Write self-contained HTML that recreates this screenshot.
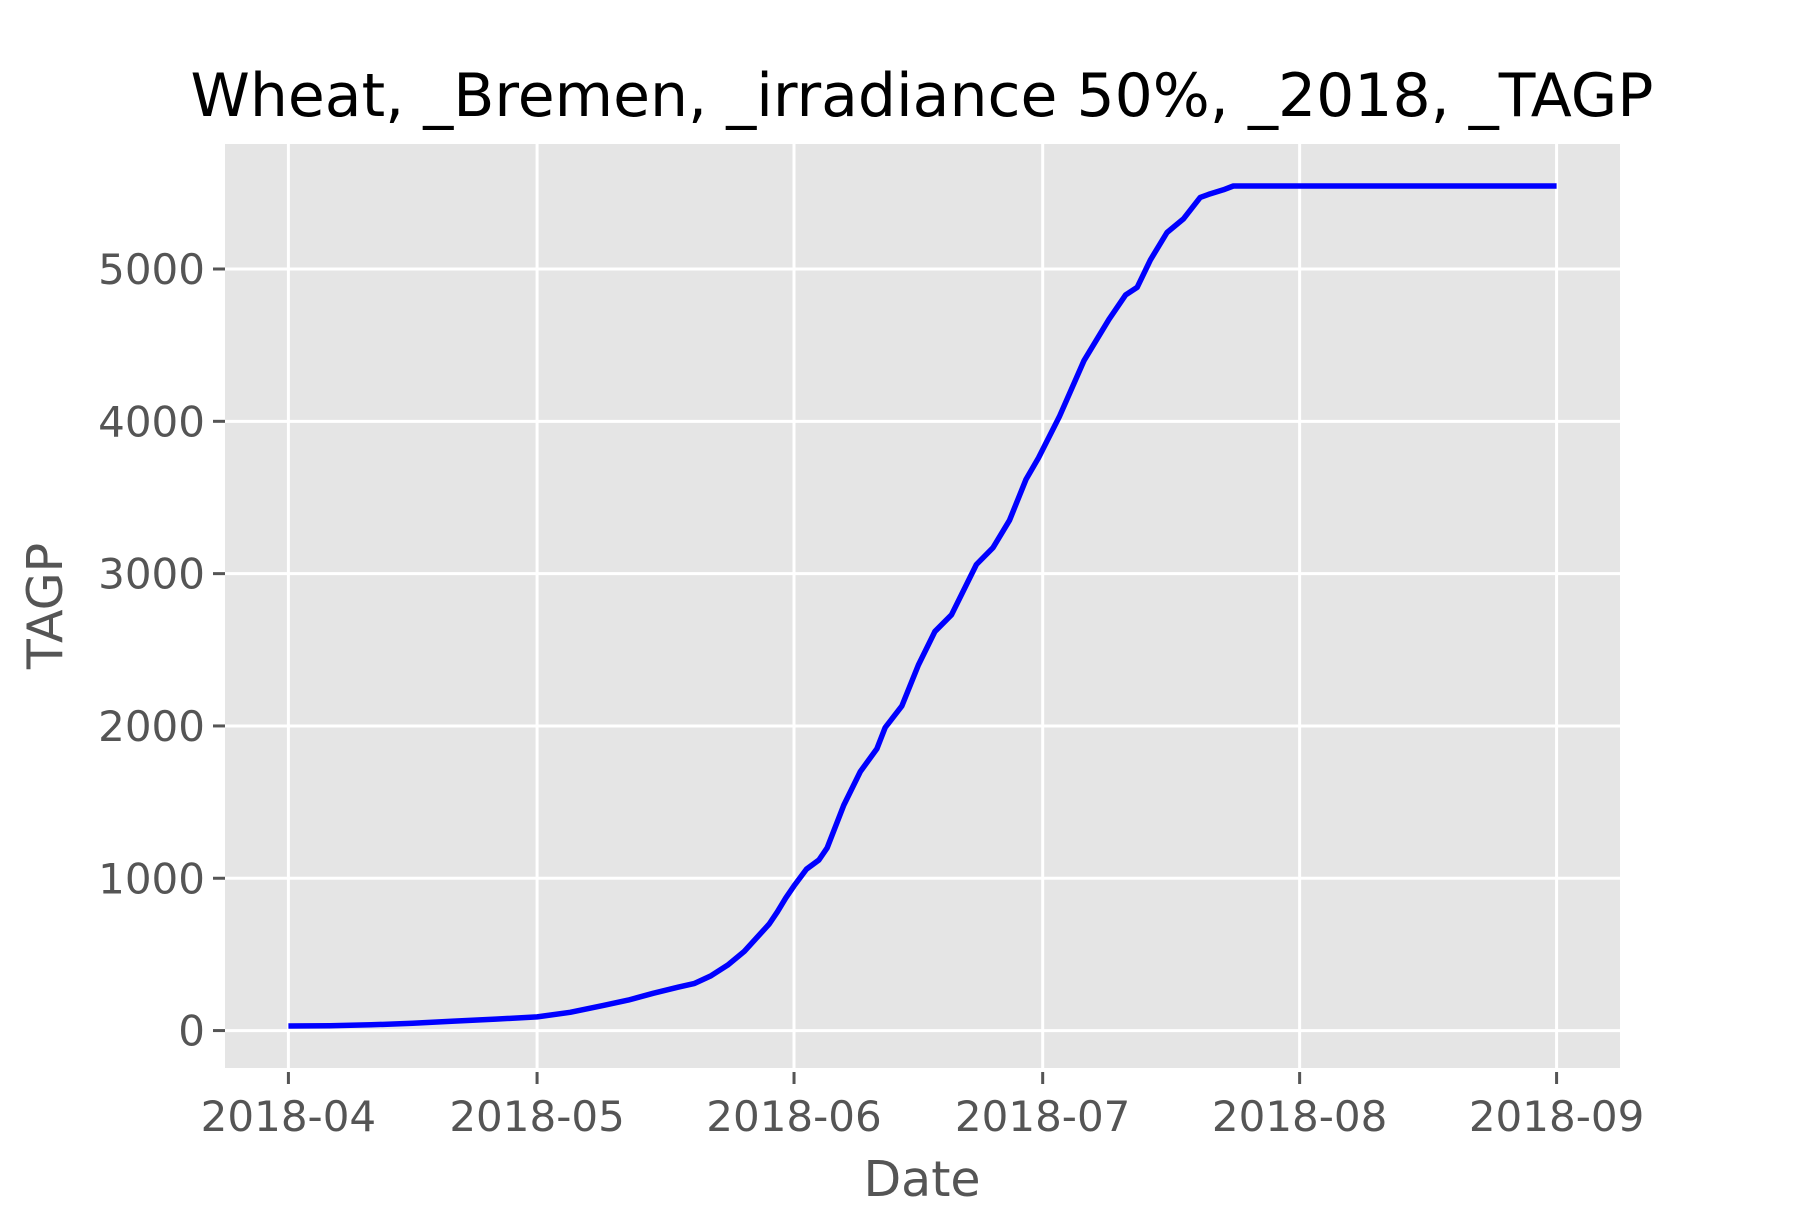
<!DOCTYPE html>
<html><head><meta charset="utf-8"><style>
html,body{margin:0;padding:0;background:#fff;}
svg text{font-family:"DejaVu Sans","Liberation Sans",sans-serif;}
</style></head><body>
<svg id="chart" width="1800" height="1200" viewBox="0 0 1800 1200" xmlns="http://www.w3.org/2000/svg">
<rect x="225" y="144" width="1395" height="924" fill="#E5E5E5"/>
<g id="grid"></g>
<g id="series"></g>
<g id="axes"></g>
<text x="922" y="116" font-size="60" text-anchor="middle" fill="#000">Wheat, _Bremen, _irradiance 50%, _2018, _TAGP</text>
<text x="922" y="1196" font-size="49" text-anchor="middle" fill="#555">Date</text>
<text transform="translate(62,606) rotate(-90)" font-size="49" text-anchor="middle" fill="#555">TAGP</text>
</svg>
<script>
const days = [0,5,10,15,20,25,30,34,38,41,44,47,49,51,53,55,57,58,59,60,61,62.5,64,65,67,69,71,72,74,76,78,80,83,85,87,89,90.5,93,96,99,101,102.4,104,106,108,110,111,112.8,114,153];
const tagp = [30,32,38,48,62,75,90,120,165,200,245,285,310,360,430,520,640,700,780,870,950,1060,1120,1200,1480,1700,1850,1990,2130,2400,2620,2730,3060,3170,3350,3620,3760,4030,4400,4670,4830,4880,5060,5240,5330,5470,5490,5520,5545,5545];
const yTicks = [0,1000,2000,3000,4000,5000];
const xTickDays = [0,30,61,91,122,153];
const xTickLabels = ["2018-04","2018-05","2018-06","2018-07","2018-08","2018-09"];

const L=225,R=1620,T=144,B=1068;
const dMin=0,dMax=153,dPad=(dMax-dMin)*0.05;
const vMin=Math.min(...tagp),vMax=Math.max(...tagp),vPad=(vMax-vMin)*0.05;
const xs=d=>L+(d-(dMin-dPad))/((dMax+dPad)-(dMin-dPad))*(R-L);
const ys=v=>B-(v-(vMin-vPad))/((vMax+vPad)-(vMin-vPad))*(B-T);
const NS="http://www.w3.org/2000/svg";
function mk(tag,attrs,parent){const e=document.createElementNS(NS,tag);for(const k in attrs)e.setAttribute(k,attrs[k]);parent.appendChild(e);return e;}
const grid=document.getElementById('grid'),axes=document.getElementById('axes'),series=document.getElementById('series');
yTicks.forEach(v=>{
  const y=ys(v);
  const g=mk('line',{x1:L,x2:R,y1:y,y2:y,stroke:'#fff','stroke-width':3},grid);
  
  
  const t=mk('line',{x1:L-12,x2:L,y1:y,y2:y,stroke:'#555','stroke-width':3},axes);
  
  
  const tx=mk('text',{x:L-20,y:y+15,'font-size':42,'text-anchor':'end',fill:'#555'},axes);
  tx.textContent=String(v);
  
  
});
xTickDays.forEach((d,i)=>{
  const x=xs(d);
  const g=mk('line',{x1:x,x2:x,y1:T,y2:B,stroke:'#fff','stroke-width':3},grid);
  
  
  const t=mk('line',{x1:x,x2:x,y1:B+4,y2:B+16,stroke:'#555','stroke-width':3},axes);
  
  
  const tx=mk('text',{x:x,y:B+63,'font-size':42,'text-anchor':'middle',fill:'#555'},axes);
  tx.textContent=xTickLabels[i];
  
  
});
const pts=days.map((d,i)=>xs(d).toFixed(1)+','+ys(tagp[i]).toFixed(1)).join(' ');
const line=mk('polyline',{points:pts,fill:'none',stroke:'#0000ff','stroke-width':5.5,'stroke-linejoin':'round'},series);


</script>
</body></html>
